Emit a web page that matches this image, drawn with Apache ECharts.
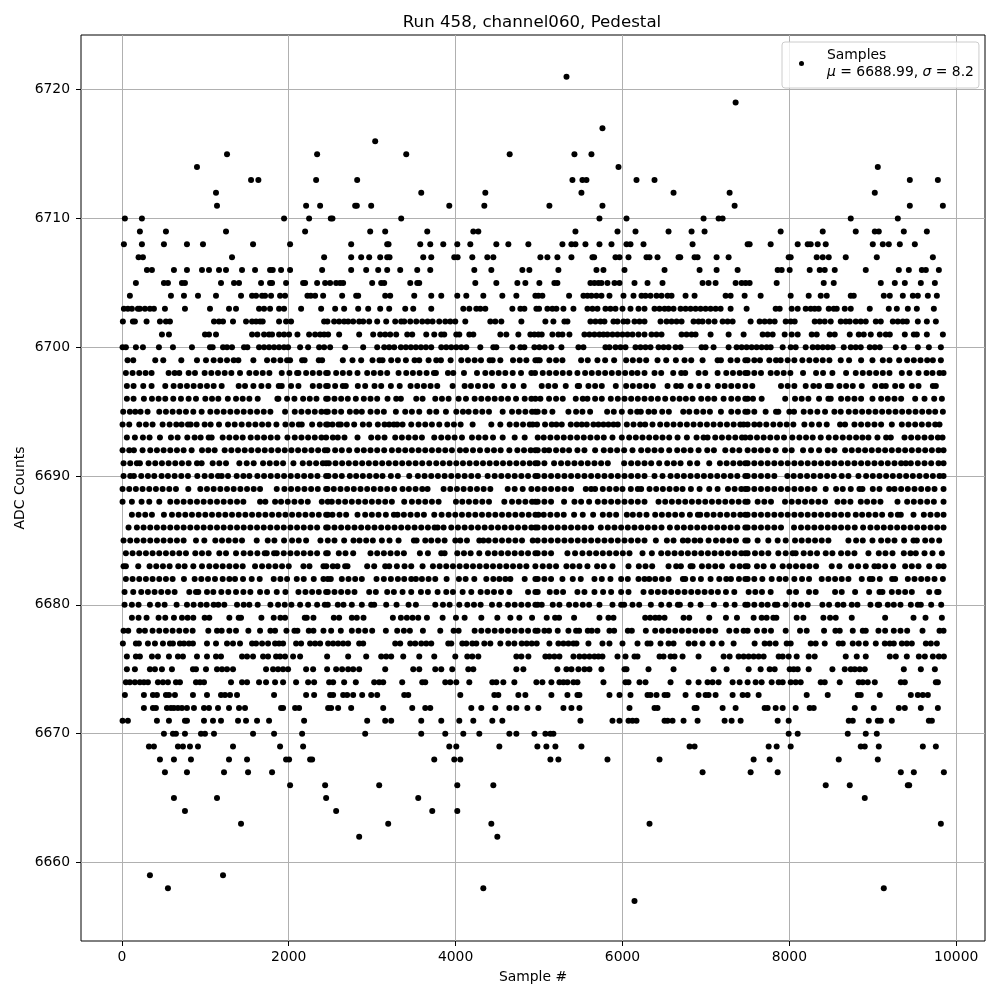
<!DOCTYPE html>
<html><head><meta charset="utf-8">
<style>html,body{margin:0;padding:0;background:#fff}#c{width:1000px;height:1000px}</style>
<script src="https://cdn.jsdelivr.net/npm/echarts@6/dist/echarts.min.js"></script>
</head><body><div id="c"></div>
<script>
const chartTitle = 'Run 458, channel060, Pedestal';
const xLabel = 'Sample #';
const yLabel = 'ADC Counts';
const xTicks = [0,2000,4000,6000,8000,10000];
const yTicks = [6660,6670,6680,6690,6700,6710,6720];
const s6721=[5329];
const s6719=[7356];
const s6717=[5760];
const s6716=[3036];
const s6715=[1260,2340,3408,4648,5424,5628];
const s6714=[900,5952,9060];
const s6713=[1548,1636,2328,2820,5400,5520,5568,6168,6384,9444,9780];
const s6712=[1128,3588,4356,5508,6612,7284,9024];
const s6711=[1140,2208,2376,2796,2816,2988,3924,4344,5124,5760,7344,9444,9840];
const s6710=[36,240,1944,2244,2504,2524,3348,5724,6048,6972,7152,7200,8736,9300];
const s6709=[216,528,1248,2196,2976,3156,3660,4212,4272,5436,5940,6156,6552,6828,6984,7896,8400,8796,9024,9072,9372,9648];
const s6708=[24,240,504,780,972,1572,2016,2748,3180,3196,3576,3696,3852,4020,4176,4488,4632,4872,5280,5388,5436,5556,5724,5868,6048,6096,6252,6840,7500,7524,7776,8100,8220,8256,8340,8436,9000,9120,9192,9324,9504];
const s6707=[200,252,1320,2424,2748,2868,2964,3096,3180,3208,3612,3708,3984,4024,4200,4380,4452,5016,5100,5220,5388,5640,5660,5916,5964,6072,6288,6324,6420,6672,6692,6864,6900,7128,7272,7992,8016,8328,8400,8472,8676,9048,9720];
const s6706=[300,360,624,780,960,1044,1164,1248,1440,1596,1776,1808,1908,2016,2400,2748,2928,3072,3180,3336,3540,3696,4224,4428,4800,4884,5232,5688,5772,6024,6504,6924,7128,7380,7860,7908,8004,8244,8364,8424,8544,8916,9312,9432,9588,9636,9792];
const s6705=[168,504,552,720,756,1188,1344,1404,1668,1776,1800,1968,2172,2196,2340,2436,2496,2568,2616,2652,3000,3108,3144,3456,3540,3564,4236,4488,4740,4836,5004,5184,5220,5616,5664,5712,5748,5820,5904,5964,6144,6300,6480,6960,7032,7116,7356,7428,7476,7524,7848,8412,8532,9096,9264,9384,9576,9744];
const s6704=[96,588,744,912,1128,1428,1560,1608,1680,1716,1788,1896,1956,2224,2264,2316,2412,2640,2808,2832,3156,3216,3504,3708,3828,4020,4128,4332,4560,4728,4956,4992,5040,5360,5532,5580,5628,5688,5748,5844,6012,6132,6228,6276,6336,6408,6468,6540,6588,6756,6864,7236,7296,7464,7656,8016,8232,8376,8448,8736,8772,9132,9204,9360,9480,9540,9660,9768];
const s6703=[24,72,120,192,216,276,336,384,516,756,1056,1284,1368,1644,1704,1776,1884,1944,2148,2388,2556,2664,2832,2952,3096,3204,3396,3492,3708,4092,4164,4248,4296,4356,4680,4776,4824,4968,5000,5100,5160,5208,5292,5412,5580,5640,5700,5796,5856,5916,6000,6096,6192,6264,6384,6444,6504,6552,6612,6696,6756,6816,6876,6936,6996,7056,7116,7176,7296,7488,7836,7884,8028,8100,8196,8256,8304,8352,8472,8532,8568,8664,8736,8964,9192,9288,9420,9528,9732];
const s6702=[12,132,156,296,456,528,576,1104,1164,1212,1332,1488,1560,1608,1656,1688,1884,1968,2028,2424,2464,2544,2604,2664,2712,2772,2844,2892,2964,3060,3168,3276,3348,3384,3456,3528,3600,3664,3724,3804,3876,3936,3996,4116,4416,4476,4548,4788,5076,5172,5304,5340,5616,5676,5736,5784,5892,5940,6012,6060,6144,6204,6264,6456,6528,6588,6648,6708,6852,6912,6960,7032,7104,7200,7260,7320,7536,7644,7704,7764,7824,7956,8016,8064,8304,8364,8424,8496,8616,8676,8724,8796,8856,8916,9036,9096,9240,9300,9360,9408,9540,9648,9756];
const s6701=[480,564,996,1044,1128,1560,1624,1704,1764,1800,1884,1944,2004,2104,2244,2316,2376,2424,2472,2604,2844,3012,3096,3156,3216,3288,3420,3480,3648,3744,3828,3864,4008,4044,4164,4212,4536,4608,4752,4896,4944,4992,5032,5160,5232,5280,5364,5544,5604,5664,5724,5772,5820,5880,5940,6000,6060,6120,6192,6264,6348,6408,6468,6708,6768,6828,6876,7056,7272,7452,7680,7740,7800,7944,8028,8100,8268,8328,8484,8544,8724,8832,8892,8976,9084,9156,9204,9384,9492,9528,9648,9840];
const s6700=[8,48,168,252,444,612,840,1056,1088,1212,1260,1320,1464,1504,1644,1704,1764,1824,1884,1944,1992,2136,2232,2364,2424,2496,2676,2892,3060,3144,3204,3264,3344,3404,3464,3524,3584,3644,3708,3828,3888,3948,4008,4068,4128,4296,4452,4488,4680,4776,4824,4944,5004,5068,5148,5268,5472,5532,5796,5844,5916,5976,6036,6156,6216,6276,6336,6432,6492,6552,6636,6696,6948,6996,7092,7272,7368,7428,7488,7548,7608,7668,7728,7776,7920,8016,8076,8196,8280,8340,8400,8460,8520,8652,8736,8796,8856,8964,9024,9084,9276,9372,9540,9672,9816];
const s6699=[68,136,400,496,712,900,1008,1100,1180,1260,1340,1396,1576,1740,1820,1900,1980,2016,2160,2190,2360,2400,2648,2764,2868,3004,3088,3124,3228,3308,3404,3508,3564,3676,3768,3824,3940,4068,4148,4228,4304,4408,4444,4536,4688,4768,4848,4956,4984,5008,5124,5204,5280,5504,5584,5700,5792,5900,6044,6124,6204,6284,6420,6524,6640,6744,6824,6960,7140,7180,7296,7376,7472,7500,7580,7648,7760,7840,7896,7980,8060,8156,8240,8320,8400,8480,8616,8716,8860,8996,9120,9200,9316,9412,9492,9572,9652,9720,9816];
const s6698=[48,128,208,284,356,560,632,688,800,876,992,1072,1152,1232,1312,1416,1528,1608,1688,1768,1916,2008,2100,2116,2208,2288,2368,2448,2468,2568,2648,2728,2824,2940,3020,3100,3180,3316,3408,3488,3568,3652,3740,3764,3908,3972,4100,4256,4356,4436,4516,4596,4684,4784,4908,4952,5044,5124,5204,5284,5364,5460,5552,5632,5712,5792,5872,5952,6032,6112,6180,6264,6384,6464,6608,6704,6752,6912,6992,7140,7244,7324,7404,7472,7500,7580,7660,7776,7852,7932,8012,8164,8320,8404,8516,8680,8796,8880,8960,9040,9120,9200,9348,9440,9548,9644,9716,9800,9848];
const s6697=[60,140,256,356,520,620,700,780,860,940,1020,1100,1196,1400,1476,1576,1672,1756,1880,1916,2028,2116,2288,2368,2448,2468,2556,2648,2684,2828,2916,3028,3108,3224,3330,3460,3540,3620,3700,3780,3964,4108,4184,4268,4356,4436,4584,4688,4816,5032,5112,5192,5320,5464,5480,5592,5672,5752,5920,6044,6124,6204,6284,6364,6540,6644,6700,6816,6920,7020,7144,7224,7304,7384,7472,7556,7900,7980,8060,8196,8288,8356,8460,8496,8600,8680,8760,8868,9028,9108,9156,9268,9348,9468,9548,9720,9756];
const s6696=[60,140,264,360,440,520,616,708,800,888,1000,1080,1156,1270,1368,1448,1528,1628,1864,1876,1980,2068,2172,2252,2332,2448,2468,2548,2628,2708,2804,2900,2980,3060,3184,3288,3344,3528,3604,3756,3836,3916,4036,4124,4228,4308,4388,4468,4548,4628,4724,4828,4908,4956,5016,5120,5204,5284,5440,5524,5580,5672,5752,5860,5944,6024,6104,6184,6264,6344,6424,6512,6604,6684,6760,6840,6944,7024,7100,7212,7304,7384,7472,7500,7564,7668,7950,8068,8148,8228,8356,8468,8496,8620,8700,8780,8860,8996,9100,9180,9260,9340,9508,9620,9736,9828];
const s6695=[16,96,160,224,308,448,528,608,688,768,856,956,1060,1140,1220,1300,1380,1460,1540,1620,1700,1780,1956,2072,2152,2232,2312,2392,2448,2468,2548,2628,2732,2808,2876,2980,3060,3140,3284,3396,3476,3564,3688,3768,3884,4008,4088,4156,4240,4320,4400,4564,4676,4756,4836,4916,4956,4984,5064,5160,5352,5444,5520,5612,5816,5896,5992,6096,6176,6220,6312,6380,6476,6556,6728,6800,6888,6968,7048,7180,7304,7384,7472,7500,7580,7716,7840,7868,8000,8056,8172,8252,8336,8428,8540,8616,8712,8792,8872,8952,9032,9112,9192,9272,9352,9432,9512,9592,9672,9748,9840];
const s6694=[8,88,208,288,368,488,572,652,716,792,824,896,992,1064,1164,1272,1352,1436,1520,1600,1680,1756,1852,1960,2040,2120,2156,2280,2372,2448,2468,2524,2596,2624,2696,2784,2888,2964,3068,3148,3204,3260,3300,3364,3468,3556,3636,3716,3804,3900,3980,4060,4204,4428,4536,4648,4728,4808,4888,4924,4976,5072,5152,5208,5272,5380,5452,5512,5572,5652,5712,5772,5832,5892,5944,6052,6132,6212,6272,6360,6452,6532,6612,6692,6772,6852,6932,7012,7092,7172,7252,7332,7412,7452,7500,7580,7644,7724,7808,7888,7968,8048,8180,8268,8356,8448,8608,8668,8780,8860,8940,9020,9100,9228,9348,9428,9508,9588,9668,9748,9800];
const s6693=[60,156,252,332,456,588,668,784,872,944,1040,1076,1208,1288,1368,1448,1544,1624,1704,1784,1864,1984,2072,2152,2232,2312,2392,2448,2528,2588,2668,2824,2988,3068,3148,3276,3356,3436,3516,3596,3744,3828,3908,3988,4076,4196,4276,4356,4448,4564,4708,4828,4984,5056,5136,5216,5296,5376,5456,5536,5616,5696,5776,5880,5992,6080,6160,6240,6320,6400,6480,6560,6660,6772,6888,6972,7020,7112,7192,7272,7352,7432,7472,7532,7612,7692,7772,7852,7936,8036,8120,8200,8280,8376,8472,8556,8640,8720,8800,8876,8948,9056,9160,9216,9380,9460,9540,9620,9700,9780,9836];
const s6692=[8,88,144,248,340,420,500,580,660,740,836,960,1036,1112,1232,1312,1392,1472,1552,1632,1712,1792,1872,1952,2032,2112,2192,2272,2352,2432,2464,2556,2636,2724,2820,2900,2980,3060,3144,3236,3316,3396,3476,3556,3636,3716,3796,3876,3956,4052,4124,4208,4292,4380,4460,4540,4644,4740,4820,4900,4956,4984,5064,5120,5204,5284,5360,5460,5544,5672,5776,5856,5936,6020,6120,6224,6304,6384,6464,6560,6656,6736,6816,6912,7016,7096,7232,7320,7400,7500,7580,7660,7740,7836,7948,8028,8164,8260,8356,8460,8540,8668,8748,8828,8908,8988,9068,9148,9228,9308,9388,9468,9548,9628,9708,9788,9848];
const s6691=[20,100,180,216,320,400,480,560,640,720,800,900,956,1088,1168,1248,1408,1496,1580,1692,1772,1852,1932,2056,2168,2248,2328,2408,2448,2480,2560,2640,2720,2800,2880,2960,3040,3120,3200,3280,3360,3440,3520,3600,3684,3768,3848,3928,4008,4088,4168,4248,4328,4408,4488,4568,4648,4728,4808,4888,4956,4984,5064,5180,5264,5344,5424,5504,5584,5664,5744,5824,6020,6104,6184,6264,6344,6440,6536,6616,6696,6808,6896,7040,7168,7248,7328,7408,7472,7500,7580,7660,7740,7820,7900,7980,8060,8140,8220,8300,8380,8460,8540,8620,8700,8780,8860,8940,9020,9100,9180,9260,9340,9396,9456,9540,9620,9700,9788,9848];
const s6690=[20,100,144,232,312,388,476,552,632,712,792,904,992,1072,1152,1196,1272,1376,1456,1528,1624,1704,1784,1864,1944,2024,2104,2184,2264,2344,2448,2476,2556,2636,2732,2808,2888,2968,3048,3124,3224,3308,3444,3548,3628,3708,3788,3868,3948,4028,4108,4188,4268,4384,4468,4548,4628,4708,4788,4868,4956,4984,5064,5144,5224,5304,5384,5464,5544,5624,5704,5784,5864,5944,6024,6104,6184,6264,6384,6480,6576,6656,6736,6816,6896,6976,7056,7136,7216,7296,7376,7472,7500,7580,7660,7740,7820,7976,8052,8132,8212,8292,8372,8452,8532,8628,8708,8828,8920,9000,9080,9160,9240,9320,9400,9480,9560,9640,9720,9800,9848];
const s6689=[8,88,168,248,328,408,488,568,648,796,940,1020,1100,1180,1260,1340,1420,1500,1580,1656,1856,1948,2028,2108,2188,2268,2348,2448,2464,2540,2620,2700,2780,2860,2940,3020,3100,3180,3264,3364,3440,3520,3600,3664,3856,3936,4016,4096,4176,4256,4336,4416,4624,4708,4804,4908,4984,5064,5144,5224,5304,5384,5560,5624,5672,5764,5844,5924,6000,6100,6184,6224,6324,6404,6484,6564,6644,6720,6820,6924,7040,7140,7264,7344,7424,7472,7500,7580,7660,7740,7820,7900,7980,8060,8140,8220,8300,8436,8560,8640,8736,8840,8876,9000,9080,9196,9260,9340,9420,9500,9580,9660,9740,9848];
const s6688=[8,120,236,328,448,580,660,740,820,900,980,1060,1140,1220,1300,1380,1456,1656,1720,1836,1908,1988,2068,2148,2228,2396,2468,2516,2596,2676,2756,2836,2916,2996,3076,3156,3236,3384,3476,3556,3636,3716,3796,4004,4080,4160,4240,4320,4400,4584,4676,4756,4836,4916,4956,4984,5064,5144,5300,5424,5504,5600,5704,5784,5864,5944,6024,6104,6184,6264,6432,6512,6592,6672,6752,6832,6912,6992,7072,7152,7232,7312,7392,7472,7500,7620,7700,7780,7948,8028,8108,8188,8268,8348,8428,8576,8652,8732,8856,8932,9012,9092,9296,9412,9492,9572,9652,9732,9848];
const s6687=[120,200,280,360,504,600,680,760,840,920,1000,1080,1160,1240,1320,1400,1480,1560,1640,1720,1800,1880,1960,2040,2120,2200,2280,2360,2448,2468,2524,2608,2688,2824,2916,2996,3076,3164,3260,3304,3380,3460,3540,3620,3744,3832,3916,3996,4076,4156,4236,4316,4396,4476,4556,4636,4716,4796,4876,4956,4992,5056,5136,5216,5296,5420,5524,5648,5764,5844,5924,6052,6124,6204,6288,6392,6472,6552,6632,6712,6808,6904,6932,7012,7092,7172,7252,7332,7412,7472,7500,7580,7660,7740,7820,7900,7980,8060,8140,8220,8300,8380,8460,8540,8620,8700,8796,8872,8952,9032,9112,9216,9300,9336,9488,9612,9692,9772,9848];
const s6686=[80,180,260,340,420,500,580,660,740,820,900,980,1060,1140,1220,1300,1380,1460,1540,1620,1700,1780,1860,1940,2020,2100,2180,2260,2340,2448,2468,2548,2628,2708,2788,2868,2948,3028,3108,3188,3268,3348,3428,3508,3588,3668,3748,3784,3856,3948,4028,4108,4188,4268,4348,4428,4508,4588,4668,4748,4828,4908,4956,4984,5064,5144,5224,5304,5384,5464,5544,5624,5740,5824,5904,5984,6064,6144,6224,6304,6384,6468,6568,6656,6736,6816,6896,6976,7056,7136,7216,7296,7376,7472,7500,7580,7660,7740,7820,7900,8056,8140,8220,8300,8380,8460,8540,8620,8700,8784,8884,8972,9052,9132,9212,9292,9372,9452,9532,9612,9692,9772,9848];
const s6685=[20,100,180,260,340,420,500,580,660,740,888,988,1120,1200,1280,1360,1440,1616,1748,1828,1944,2040,2120,2208,2380,2468,2548,2664,2776,2848,2928,3008,3116,3208,3316,3500,3532,3636,3708,3788,3868,3996,4056,4136,4284,4332,4396,4476,4556,4636,4716,4796,4924,4984,5064,5144,5224,5304,5384,5464,5544,5624,5704,5784,5864,5944,6024,6104,6184,6264,6400,6532,6612,6724,6784,6864,6932,7032,7120,7200,7280,7360,7472,7500,7620,7748,7860,7956,8068,8148,8228,8308,8388,8468,8708,8800,8880,8996,9100,9180,9260,9376,9488,9528,9628,9708,9796];
const s6684=[48,128,208,288,368,448,528,608,688,768,880,960,1040,1168,1248,1368,1460,1540,1624,1712,1736,1824,1856,1940,2020,2100,2180,2260,2340,2448,2468,2600,2680,2772,2980,3060,3140,3220,3300,3380,3572,3668,3828,3868,4020,4100,4180,4284,4388,4468,4548,4628,4708,4788,4868,4956,4984,5064,5144,5340,5432,5520,5604,5684,5764,5844,5924,6004,6084,6240,6352,6464,6544,6624,6704,6784,6864,6944,7024,7104,7184,7264,7344,7424,7472,7500,7588,7668,7748,7868,7956,8040,8076,8172,8252,8332,8436,8516,8620,8700,8780,8948,9072,9152,9236,9372,9452,9516,9620,9716,9828];
const s6683=[20,48,196,332,412,492,572,676,752,856,960,1048,1128,1208,1288,1368,1448,1596,1680,1760,1840,1920,2000,2176,2248,2416,2450,2528,2584,2676,2704,2940,3024,3156,3204,3296,3388,3468,3604,3728,3808,3888,3968,4048,4128,4208,4288,4368,4448,4528,4608,4688,4768,4848,4956,5044,5124,5204,5328,5404,5484,5580,5696,5776,5880,6072,6196,6276,6356,6552,6644,6700,6816,6840,6952,7032,7112,7192,7320,7404,7472,7500,7612,7692,7804,7920,8000,8080,8160,8240,8320,8508,8600,8740,8824,8916,9020,9068,9148,9244,9388,9468,9548,9676,9788,9848];
const s6682=[48,128,208,288,368,448,528,608,744,872,952,1032,1116,1208,1288,1356,1452,1556,1652,1820,1900,1980,2096,2180,2300,2416,2468,2504,2636,2716,2796,2876,3052,3140,3224,3308,3384,3468,3524,3596,3676,3756,3892,4040,4120,4224,4368,4452,4524,4596,4656,4828,4956,4984,5064,5144,5280,5404,5500,5664,5752,5856,5984,6064,6192,6264,6320,6392,6472,6552,6724,6752,6844,6940,7056,7160,7244,7300,7396,7472,7500,7580,7676,7788,7880,7956,8060,8152,8236,8388,8468,8548,8628,8708,8868,8964,8996,9084,9232,9268,9420,9500,9580,9656,9740,9840];
const s6681=[32,136,232,312,392,472,552,632,808,888,916,1020,1096,1192,1276,1368,1456,1540,1656,1740,1856,1960,2116,2200,2280,2360,2448,2468,2548,2628,2708,2788,2964,3044,3180,3260,3364,3468,3584,3668,3784,3888,3968,4084,4188,4300,4380,4460,4544,4644,4868,4956,4984,5128,5208,5288,5460,5544,5664,5768,5864,5984,6072,6252,6344,6424,6504,6584,6664,6744,6824,6904,6984,7064,7144,7240,7340,7512,7592,7672,7776,8000,8080,8236,8316,8548,8628,8788,8956,9080,9116,9228,9308,9388,9468,9676,9772,9788];
const s6680=[32,120,200,336,432,512,656,780,860,944,1016,1100,1156,1228,1380,1460,1528,1628,1780,1872,1952,2032,2136,2232,2340,2432,2468,2588,2656,2756,2876,2988,3024,3168,3292,3436,3524,3756,3848,3928,4044,4140,4220,4300,4436,4524,4628,4708,4788,4868,4956,4984,5032,5164,5244,5360,5440,5524,5600,5724,5880,5984,6020,6120,6200,6340,6464,6560,6664,6688,6816,6936,7096,7240,7344,7472,7500,7580,7668,7740,7828,7856,7956,8060,8140,8220,8396,8476,8580,8648,8748,8816,8972,9060,9076,9180,9252,9332,9456,9540,9576,9700,9820];
const s6679=[120,200,296,440,520,624,720,788,856,992,1048,1288,1400,1428,1672,1820,1900,1956,2192,2216,2296,2540,2604,2756,2816,2896,3248,3344,3416,3484,3552,3656,3844,4004,4108,4308,4500,4656,4764,4916,5092,5192,5240,5420,5724,5832,5892,6272,6332,6392,6440,6504,6732,6800,7040,7240,7372,7572,7668,7728,7808,7844,8088,8168,8408,8488,8556,8748,9148,9488,9632,9828];
const s6678=[20,76,208,276,368,448,528,608,688,768,848,1036,1140,1196,1288,1368,1516,1656,1780,1836,1972,2068,2104,2240,2296,2416,2508,2624,2756,2836,2916,3000,3164,3300,3380,3452,3608,3816,3976,4036,4228,4308,4388,4468,4548,4628,4708,4788,4868,4956,4984,5064,5120,5224,5352,5444,5480,5584,5632,5700,5844,5900,6064,6112,6280,6392,6472,6552,6632,6712,6792,6872,6952,7032,7112,7280,7364,7452,7500,7612,7700,7780,7956,8128,8208,8416,8552,8604,8760,8880,8916,9068,9148,9252,9332,9412,9596,9800,9848];
const s6677=[12,168,204,312,396,492,576,612,696,744,804,852,1020,1128,1260,1332,1416,1560,1608,1680,1752,1836,1884,1932,2088,2148,2256,2316,2376,2472,2532,2592,2652,2712,2844,2892,3276,3336,3456,3516,3588,3648,3708,3912,3948,4080,4128,4200,4248,4344,4416,4536,4632,4704,4792,4852,4912,4972,5124,5232,5292,5352,5412,5448,5592,5760,5844,6000,6180,6300,6336,6456,6552,6612,6792,6864,6960,7080,7188,7332,7584,7704,7764,7836,7968,8016,8256,8316,8424,8592,8640,8760,8832,8916,9036,9144,9204,9252,9348,9408,9468,9636,9696,9768];
const s6676=[60,168,216,360,432,564,672,732,900,1020,1128,1188,1440,1500,1572,1692,1752,1848,1896,1956,2052,2136,2460,2712,2928,3108,3168,3228,3372,3564,3744,3996,4140,4200,4272,4728,4788,4872,5076,5124,5184,5244,5412,5484,5544,5604,5664,5712,5760,5940,6036,6144,6180,6444,6492,6576,6624,6720,6912,7212,7284,7392,7452,7512,7572,7632,7692,7872,7920,7992,8088,8232,8304,8676,8808,8916,9204,9276,9408,9552,9624,9720,9792,9852];
const s6675=[60,156,336,396,480,600,852,888,1008,1140,1200,1260,1332,1728,1812,1872,1932,1992,2208,2292,2460,2568,2640,2712,2772,2844,3156,3492,3564,3756,3828,3960,4152,4212,4728,4812,5220,5328,5388,5472,5544,5604,5748,6024,6048,6312,6612,7092,7248,7512,7656,7764,7824,8004,8052,8100,8232,8516,8664,8736,8784,8844,8904,9372,9576,9744];
const s6674=[48,96,156,216,264,312,432,492,552,648,696,888,936,984,1308,1440,1500,1644,1728,1836,1932,2088,2232,2304,2484,2532,2664,2804,3024,3084,3132,3360,3600,3636,3876,3936,4008,4164,4440,4488,4572,4704,4968,5040,5148,5244,5292,5340,5412,5460,5772,6036,6072,6204,6276,6576,6792,6912,7020,7080,7152,7320,7404,7500,7596,7668,7788,7872,7920,8016,8076,8136,8376,8424,8604,8832,8880,8940,9024,9336,9384,9756,9780];
const s6673=[36,264,372,420,528,564,636,852,1020,1188,1236,1296,1380,1824,2208,2304,2496,2532,2652,2700,2772,2880,2988,3060,3384,3432,4056,4464,4512,4752,4836,5148,5340,5460,5484,5844,5964,6096,6300,6336,6408,6504,6540,6756,6912,6996,7032,7116,7320,7440,7500,7632,8208,8460,8820,8856,9084,9456,9540,9600,9660];
const s6672=[264,372,408,540,588,624,672,720,780,864,984,1044,1152,1284,1404,1476,1908,1932,2076,2124,2472,2508,2592,2748,3132,3480,3636,3696,4188,4308,4476,4644,4728,4860,4992,5292,5388,5484,6084,6384,6420,6864,6888,7200,7356,7704,7740,7836,7920,8076,8244,8292,8784,9012,9312,9384,9576,9780];
const s6671=[8,72,420,564,756,780,984,1092,1188,1392,1488,1620,1764,2184,2940,3156,3228,3588,3828,4044,4212,4440,4560,5496,5880,5964,6072,6120,6168,6504,6540,6600,6732,6900,7224,7308,7416,7860,7992,8712,8760,8952,9060,9096,9228,9672,9708];
const s6670=[504,612,648,756,948,996,1104,1572,1824,2160,2916,3588,3876,4092,4284,4644,4728,4944,5076,5136,5172,7992,8100,8700,8916,9048];
const s6669=[324,384,672,732,816,912,1332,1896,2172,3924,4008,4524,4980,5088,5196,5508,6804,6864,7752,7848,8016,8856,8904,9072,9600,9756];
const s6668=[456,624,828,1284,1500,1968,2004,2256,2280,3744,3984,4056,5136,5232,5820,6444,7572,7764,8592,9060];
const s6667=[516,780,1224,1512,1800,6960,7536,7860,9336,9492,9852];
const s6666=[2016,2436,3084,4020,4452,8436,8724,9420,9436];
const s6665=[624,1140,2448,3552,8904];
const s6664=[756,2568,3720,4020];
const s6663=[1428,3192,4428,6324,9816];
const s6662=[2844,4500];
const s6659=[336,1212];
const s6658=[552,4332,9132];
const s6657=[6144];

const levels = [
 [6721,s6721],[6719,s6719],[6717,s6717],[6716,s6716],[6715,s6715],[6714,s6714],[6713,s6713],[6712,s6712],[6711,s6711],[6710,s6710],
 [6709,s6709],[6708,s6708],[6707,s6707],[6706,s6706],[6705,s6705],[6704,s6704],[6703,s6703],[6702,s6702],[6701,s6701],[6700,s6700],
 [6699,s6699],[6698,s6698],[6697,s6697],[6696,s6696],[6695,s6695],[6694,s6694],[6693,s6693],[6692,s6692],[6691,s6691],[6690,s6690],
 [6689,s6689],[6688,s6688],[6687,s6687],[6686,s6686],[6685,s6685],[6684,s6684],[6683,s6683],[6682,s6682],[6681,s6681],[6680,s6680],
 [6679,s6679],[6678,s6678],[6677,s6677],[6676,s6676],[6675,s6675],[6674,s6674],[6673,s6673],[6672,s6672],[6671,s6671],[6670,s6670],
 [6669,s6669],[6668,s6668],[6667,s6667],[6666,s6666],[6665,s6665],[6664,s6664],[6663,s6663],[6662,s6662],[6659,s6659],[6658,s6658],[6657,s6657]
];
const points = [];
levels.forEach(([y, xs]) => xs.forEach(x => points.push([x, y])));

const font = 'DejaVu Sans';
const axisCommon = {
  type:'value', scale:true,
  axisLine:{show:false,onZero:false},
  axisTick:{show:true,length:5,lineStyle:{color:'#000',width:1}},
  splitLine:{show:true,lineStyle:{color:'#b0b0b0',width:1}},
  nameLocation:'middle',
  nameMoveOverlap:false,
  nameTextStyle:{color:'#000',fontFamily:font,fontSize:13.9},
};
const chart = echarts.init(document.getElementById('c'),null,{renderer:'canvas'});
chart.setOption({
  animation:false,
  backgroundColor:'#fff',
  title:{text:chartTitle,left:527,top:9,textAlign:'center',textStyle:{fontFamily:font,fontSize:16.67,fontWeight:'normal',color:'#000'}},
  grid:{left:81,right:15,top:35,bottom:59,show:true,borderColor:'#000',borderWidth:1,backgroundColor:'transparent',outerBoundsMode:'none'},
  xAxis:Object.assign({},axisCommon,{
    min:-490,max:10345,name:xLabel,nameGap:29,
    axisTick:Object.assign({},axisCommon.axisTick,{customValues:xTicks}),
    axisLabel:{customValues:xTicks,color:'#000',fontFamily:font,fontSize:13.9,margin:9,formatter:v=>String(v)},
  }),
  yAxis:Object.assign({},axisCommon,{
    min:6653.9,max:6724.25,name:yLabel,nameGap:54,
    axisTick:Object.assign({},axisCommon.axisTick,{customValues:yTicks}),
    axisLabel:{customValues:yTicks,color:'#000',fontFamily:font,fontSize:13.9,margin:11,formatter:v=>String(v)},
  }),
  legend:{
    show:true,left:782,top:42,orient:'vertical',itemWidth:5,itemHeight:5,padding:[6,5,9,17],
    backgroundColor:'rgba(255,255,255,0.8)',borderColor:'#ccc',borderWidth:1,borderRadius:3,
    data:[{name:'Samples',icon:'circle',itemStyle:{color:'#000'}}],
    formatter:()=>'{a|Samples}\n{i|μ}{a| = 6688.99, }{i|σ}{a| = 8.2}',
    textStyle:{color:'#000',fontFamily:font,fontSize:13.9,padding:[0,0,0,18],
      rich:{a:{fontFamily:font,fontSize:13.9,color:'#000',lineHeight:17},i:{fontFamily:font,fontSize:13.9,fontStyle:'italic',color:'#000',lineHeight:17}}},
  },
  series:[{
    name:'Samples',type:'scatter',data:points,symbol:'circle',symbolSize:6,
    itemStyle:{color:'#000',opacity:1},silent:true,progressive:0,large:false,z:3,
  }],
});
</script></body></html>
